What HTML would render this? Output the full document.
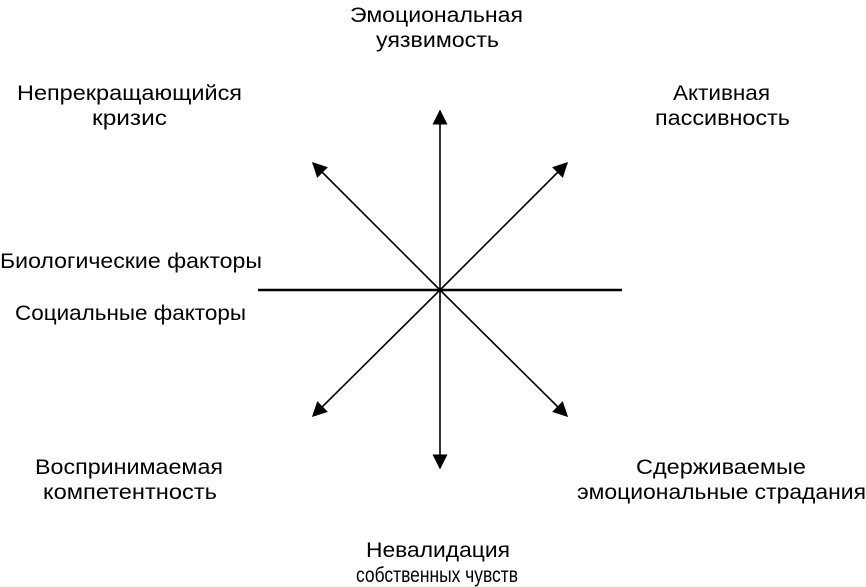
<!DOCTYPE html>
<html><head><meta charset="utf-8"><style>html,body{margin:0;padding:0;background:#fff}svg{display:block}</style></head>
<body>
<svg width="866" height="587" viewBox="0 0 866 587" xmlns="http://www.w3.org/2000/svg">
<defs>
<marker id="b" viewBox="0 0 10 10" refX="9" refY="5" markerWidth="15" markerHeight="15" markerUnits="userSpaceOnUse" orient="auto">
<path d="M0,0 L10,5 L0,10 z" fill="#000"/>
</marker>
</defs>
<line x1="258" y1="290" x2="622" y2="290" stroke="#000" stroke-width="2.5"/>
<g stroke="#000" stroke-width="1.6" fill="none">
<line x1="440" y1="290" x2="440" y2="111" marker-end="url(#b)"/>
<line x1="440" y1="290" x2="440" y2="468" marker-end="url(#b)"/>
<line x1="440" y1="290" x2="313" y2="163" marker-end="url(#b)"/>
<line x1="440" y1="290" x2="567" y2="163" marker-end="url(#b)"/>
<line x1="440" y1="290" x2="313" y2="416" marker-end="url(#b)"/>
<line x1="440" y1="290" x2="567" y2="416" marker-end="url(#b)"/>
</g>
<g font-family="Liberation Sans, sans-serif" font-size="21.5" fill="#000">
<text x="350" y="22" textLength="173" lengthAdjust="spacingAndGlyphs">Эмоциональная</text>
<text x="376" y="47" textLength="123" lengthAdjust="spacingAndGlyphs">уязвимость</text>
<text x="17" y="100" textLength="225" lengthAdjust="spacingAndGlyphs">Непрекращающийся</text>
<text x="92" y="125" textLength="75" lengthAdjust="spacingAndGlyphs">кризис</text>
<text x="673" y="100" textLength="97" lengthAdjust="spacingAndGlyphs">Активная</text>
<text x="655" y="125" textLength="135" lengthAdjust="spacingAndGlyphs">пассивность</text>
<text x="0" y="268" textLength="262" lengthAdjust="spacingAndGlyphs">Биологические факторы</text>
<text x="15" y="320" textLength="231" lengthAdjust="spacingAndGlyphs">Социальные факторы</text>
<text x="35" y="474" textLength="188" lengthAdjust="spacingAndGlyphs">Воспринимаемая</text>
<text x="43" y="499" textLength="174" lengthAdjust="spacingAndGlyphs">компетентность</text>
<text x="636" y="474" textLength="170" lengthAdjust="spacingAndGlyphs">Сдерживаемые</text>
<text x="577" y="499" textLength="289" lengthAdjust="spacingAndGlyphs">эмоциональные страдания</text>
<text x="366" y="557" textLength="144" lengthAdjust="spacingAndGlyphs">Невалидация</text>
<text x="356" y="582" textLength="162" lengthAdjust="spacingAndGlyphs">собственных чувств</text>
</g>
</svg>
</body></html>
